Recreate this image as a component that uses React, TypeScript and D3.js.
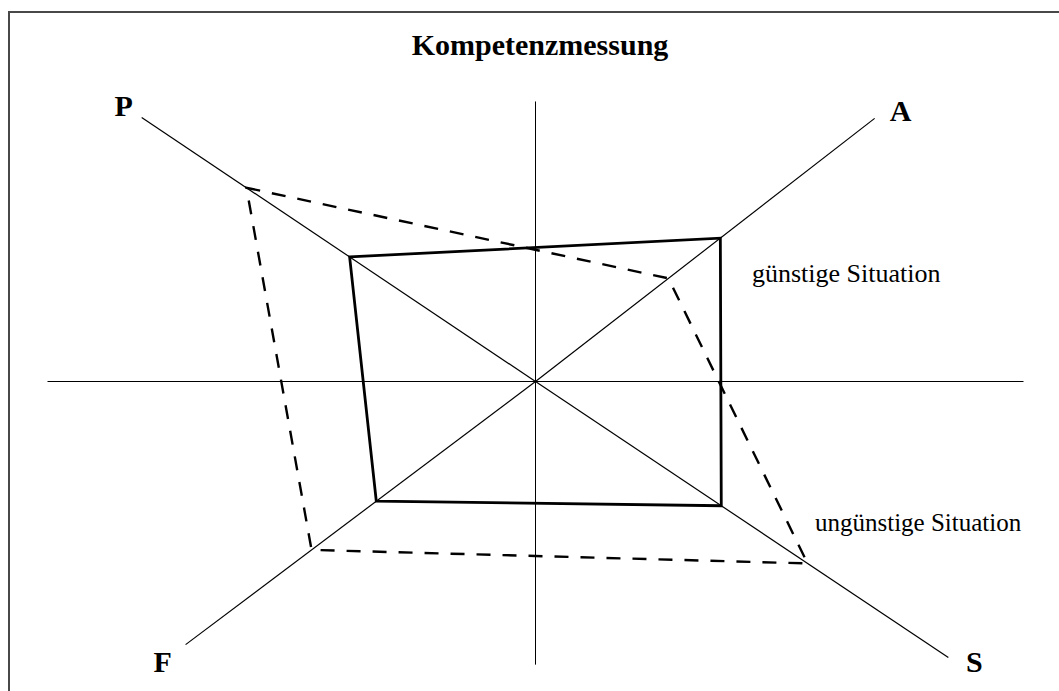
import React from "react";
import * as d3 from "d3";

const W = 1059;
const H = 691;

// Axis labels and their end points (data units, centre = 0,0)
const axisLabels = ["P", "A", "S", "F"];
const axisEndX = [-0.807, 0.695, 0.846, -0.717];
const axisEndY = [0.936, 0.933, -0.979, -0.933];

// Cross axes (horizontal / vertical)
const hAxis = [-1, 1];
const vAxis = [-1.004, 0.993];

// Values on each diagonal axis (fraction of axis length)
const favourable = [0.472, 0.545, 0.45, 0.455]; // günstige Situation (solid)
const unfavourable = [0.734, 0.392, 0.659, 0.64]; // ungünstige Situation (dashed)

const title = "Kompetenzmessung";
const seriesLabels = ["günstige Situation", "ungünstige Situation"];

export default function App() {
  const x = d3.scaleLinear().domain([-1, 1]).range([47.5, 1023.5]);
  const y = d3.scaleLinear().domain([-1, 1]).range([663.5, 99.5]);

  const pt = (i: number, f: number): [number, number] => [
    x(axisEndX[i] * f),
    y(axisEndY[i] * f),
  ];
  const line = d3.line<[number, number]>().curve(d3.curveLinearClosed);

  const solidPts = favourable.map((f, i) => pt(i, f));
  const dashPts = unfavourable.map((f, i) => pt(i, f));

  const labelPos = [
    { dx: -18, dy: -2 },
    { dx: 26, dy: 3 },
    { dx: 26, dy: 14 },
    { dx: -23, dy: 27 },
  ];

  return (
    <svg
      width={W}
      height={H}
      style={{ position: "absolute", left: 0, top: 0, background: "#fff" }}
      fontFamily="'Liberation Serif', 'Times New Roman', serif"
    >
      <rect x={9} y={12} width={1200} height={1000} fill="#fff" stroke="#484848" strokeWidth={2} />
      <text x={540} y={55} textAnchor="middle" fontSize={30} fontWeight="bold">
        {title}
      </text>
      {/* cross axes */}
      <line x1={x(hAxis[0])} x2={x(hAxis[1])} y1={y(0)} y2={y(0)} stroke="#000" strokeWidth={1} />
      <line x1={x(0)} x2={x(0)} y1={y(vAxis[0])} y2={y(vAxis[1])} stroke="#000" strokeWidth={1} />
      {/* diagonal axes */}
      {axisLabels.map((l, i) => (
        <line
          key={"ax" + l}
          x1={x(0)}
          y1={y(0)}
          x2={x(axisEndX[i])}
          y2={y(axisEndY[i])}
          stroke="#000"
          strokeWidth={1.2}
        />
      ))}
      {axisLabels.map((l, i) => {
        const [px, py] = pt(i, 1);
        return (
          <text
            key={"lb" + l}
            x={px + labelPos[i].dx}
            y={py + labelPos[i].dy}
            textAnchor="middle"
            fontSize={30}
            fontWeight="bold"
          >
            {l}
          </text>
        );
      })}
      <path d={line(solidPts) || ""} fill="none" stroke="#000" strokeWidth={2.8} strokeLinejoin="miter" />
      <path
        d={line(dashPts) || ""}
        fill="none"
        stroke="#000"
        strokeWidth={2.4}
        strokeDasharray="14 12"
      />
      <text x={752} y={282} fontSize={26}>
        {seriesLabels[0]}
      </text>
      <text x={815} y={531} fontSize={25}>
        {seriesLabels[1]}
      </text>
    </svg>
  );
}
